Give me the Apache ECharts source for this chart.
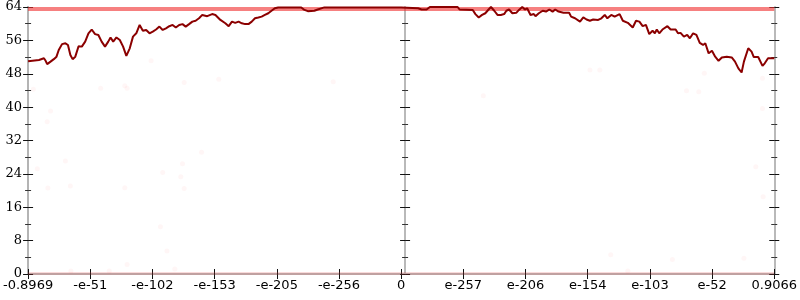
<!DOCTYPE html>
<html>
<head>
<meta charset="utf-8">
<script src="https://cdn.jsdelivr.net/npm/echarts@6/dist/echarts.min.js"></script>
<style>html,body{margin:0;padding:0;background:#fff}#c{width:800px;height:300px}</style>
</head>
<body>
<div id="c"></div>
<script>
// x positions are in tick-slot units (-6 .. 6), matching the tick labels below
var tickLabels = ['-0.8969','-e-51','-e-102','-e-153','-e-205','-e-256','0','e-257','e-206','e-154','e-103','e-52','0.9066'];
var yTicks = [0, 8, 16, 24, 32, 40, 48, 56, 64];

var lineX = [-6.000,-5.825,-5.745,-5.718,-5.693,-5.639,-5.586,-5.543,-5.507,-5.454,-5.400,-5.359,-5.320,-5.284,-5.241,-5.188,-5.136,-5.082,-5.029,-4.977,-4.923,-4.870,-4.817,-4.763,-4.711,-4.674,-4.631,-4.579,-4.525,-4.472,-4.420,-4.365,-4.313,-4.260,-4.206,-4.154,-4.101,-4.047,-3.995,-3.942,-3.888,-3.835,-3.783,-3.729,-3.676,-3.624,-3.570,-3.517,-3.465,-3.411,-3.358,-3.306,-3.251,-3.199,-3.119,-3.040,-2.987,-2.907,-2.828,-2.774,-2.721,-2.669,-2.615,-2.562,-2.510,-2.456,-2.403,-2.351,-2.297,-2.244,-2.192,-2.137,-2.085,-2.032,-1.978,-1.800,-1.607,-1.555,-1.501,-1.396,-1.342,-1.236,-0.800,-0.300,0.000,0.271,0.330,0.409,0.462,0.700,0.908,0.939,1.151,1.194,1.247,1.301,1.353,1.406,1.444,1.497,1.549,1.603,1.656,1.692,1.735,1.788,1.851,1.894,1.947,1.990,2.026,2.080,2.133,2.160,2.213,2.276,2.329,2.383,2.435,2.478,2.531,2.610,2.701,2.733,2.796,2.876,2.929,2.981,3.035,3.088,3.168,3.220,3.274,3.316,3.379,3.433,3.513,3.565,3.645,3.724,3.777,3.831,3.884,3.936,3.990,4.043,4.080,4.111,4.150,4.202,4.282,4.334,4.414,4.452,4.493,4.547,4.600,4.643,4.695,4.748,4.802,4.855,4.891,4.945,4.998,5.050,5.104,5.157,5.236,5.316,5.369,5.423,5.475,5.512,5.582,5.635,5.671,5.742,5.811,5.847,5.900,5.980,6.000];
var lineY = [51.0,51.3,51.7,51.1,50.3,50.9,51.5,52.1,53.7,55.1,55.3,54.9,52.5,51.5,52.1,54.6,54.5,55.7,57.7,58.6,57.5,57.3,55.7,54.5,55.7,56.7,55.7,56.7,56.1,54.5,52.3,54.1,56.9,57.7,59.7,58.3,58.5,57.7,58.1,58.6,59.3,58.5,58.9,59.4,59.7,59.1,59.7,59.9,59.3,59.9,60.5,60.7,61.3,62.1,61.8,62.3,62.1,60.9,60.1,59.4,60.5,60.2,60.5,60.1,59.9,59.9,60.5,61.3,61.5,61.7,62.1,62.5,63.1,63.7,63.9,63.9,63.9,63.3,63.0,63.1,63.4,63.9,63.9,63.9,63.9,63.7,63.4,63.4,64.0,64.0,64.0,63.4,63.3,62.3,61.5,62.1,62.5,63.4,64.0,63.1,62.1,62.1,62.3,63.1,63.4,62.5,62.6,63.3,64.0,63.4,63.7,62.1,62.3,61.8,62.5,63.1,62.9,63.4,62.9,63.4,62.9,62.6,62.6,61.7,61.3,60.5,61.5,61.0,60.7,61.0,60.9,61.3,62.1,61.3,62.1,61.7,62.3,60.7,60.2,59.1,60.7,60.5,59.4,59.7,57.5,58.3,57.7,58.6,57.7,58.6,59.4,58.6,58.6,57.7,57.8,56.9,57.3,56.5,57.7,57.3,55.4,54.9,55.3,52.9,53.5,52.1,51.1,51.9,52.1,51.9,50.9,49.3,48.3,50.9,54.1,53.3,52.0,52.0,49.9,50.5,51.7,51.7,51.7];

var dotX = [-5.639,-5.693,-5.400,-5.852,-5.682,-5.320,-4.445,-3.835,-3.517,-3.544,-3.490,-3.210,-3.872,-5.916,-4.833,-4.445,-4.408,-4.022,-3.490,-2.933,-1.093,1.321,3.036,3.195,4.875,4.589,4.786,5.810,5.810,5.703,5.821,-5.311,-4.695,-4.408,-3.767,-3.640,3.370,4.362,5.512,3.645];
var dotY = [39.1,36.5,27.1,25.2,20.6,21.1,20.7,24.3,26.4,23.3,20.5,29.2,11.3,44.3,44.5,45.1,44.5,51.1,45.9,46.7,46.1,42.7,48.9,48.9,48.1,43.9,43.7,46.9,39.7,25.7,18.5,0.7,0.7,2.3,5.5,1.2,4.6,3.5,3.8,0.7];

var bandLevels = [63.6, 0.15];

var lineData = lineX.map(function (x, i) { return [x, lineY[i]]; });
var dotData = dotX.map(function (x, i) { return [x, dotY[i]]; });

var GRAY = '#b4b4b4';
var SERIF = '"DejaVu Serif", serif';
var SANS = '"DejaVu Sans", sans-serif';
function yAx(pos, inside, labels, offset) {
  return {
    type: 'value', min: 0, max: 64, interval: 8, position: pos, offset: offset || 0,
    axisLine: { show: true, onZero: false, lineStyle: { color: GRAY, width: pos === 'left' && !offset ? 2 : 1.5 } },
    axisTick: { show: true, inside: inside, length: 5, lineStyle: { color: '#111', width: 1 } },
    minorTick: { show: true, splitNumber: 2, length: 3, lineStyle: { color: '#333', width: 1 } },
    splitLine: { show: false },
    axisLabel: labels ? { show: true, margin: 6, color: '#000', fontFamily: SERIF, fontSize: 13 } : { show: false }
  };
}
function xAx(inside, labels) {
  return {
    type: 'value', min: -6, max: 6, interval: 1, position: 'bottom',
    axisLine: { show: true, onZero: false, lineStyle: { color: GRAY, width: 1.5 } },
    axisTick: { show: true, inside: inside, length: 5, lineStyle: { color: '#111', width: 1 } },
    splitLine: { show: false },
    axisLabel: labels ? {
      show: true, margin: 5, color: '#000', fontFamily: SANS, fontSize: 13,
      showMinLabel: true, showMaxLabel: true,
      formatter: function (v) { return tickLabels[Math.round(v) + 6]; }
    } : { show: false }
  };
}

var chart = echarts.init(document.getElementById('c'), null, { renderer: 'canvas' });
chart.setOption({
  animation: false,
  backgroundColor: '#fff',
  grid: { left: 24, right: 22, top: 7, bottom: 26, containLabel: false },
  xAxis: [xAx(false, true), xAx(true, false)],
  yAxis: [
    yAx('left', false, true), yAx('left', true, false),
    yAx('left', false, false, -377), yAx('left', true, false, -377),
    yAx('right', false, false), yAx('right', true, false)
  ],
  series: [
    {
      type: 'scatter', data: dotData, symbolSize: 5, z: 1,
      itemStyle: { color: 'rgba(255,70,70,0.06)' },
      markLine: {
        silent: true, symbol: ['none', 'none'], label: { show: false },
        data: [
          { yAxis: bandLevels[0], lineStyle: { color: 'rgba(240,50,50,0.62)', width: 4, type: 'solid' } },
          { yAxis: bandLevels[1], lineStyle: { color: 'rgba(225,70,70,0.2)', width: 3, type: 'solid' } }
        ]
      }
    },
    {
      type: 'line', data: lineData, showSymbol: false, z: 5,
      lineStyle: { color: '#8b0000', width: 2 }
    }
  ]
});
</script>
</body>
</html>
